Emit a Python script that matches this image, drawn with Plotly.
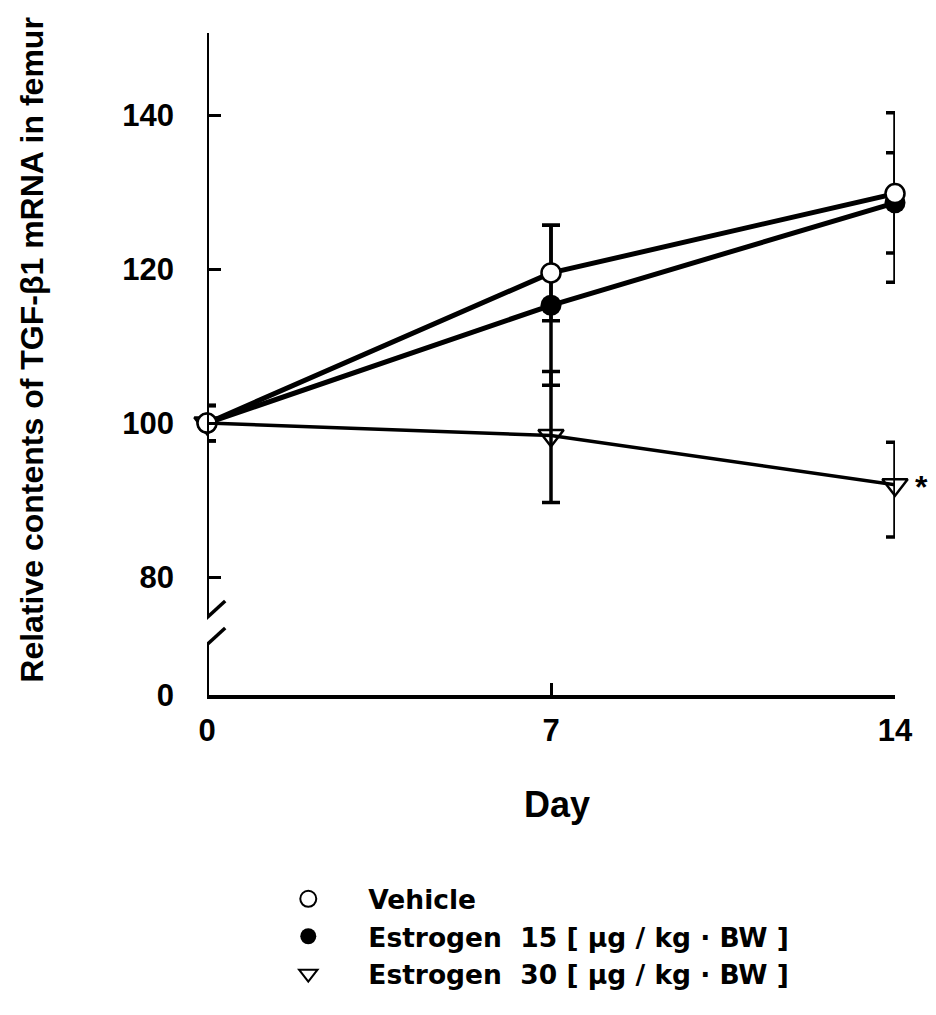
import plotly.graph_objects as go

# ---- data ----
days = [0, 7, 14]

vehicle = [100, 119.5, 129.8]
vehicle_err_plus = [2.3, 6.2, 10.5]
vehicle_err_minus = [2.3, 6.2, 11.5]

estrogen15 = [100, 115.3, 128.6]
estrogen15_err_plus = [2.3, 10.4, 6.5]
estrogen15_err_minus = [2.3, 10.4, 6.5]

estrogen30 = [100, 98.4, 92.0]
estrogen30_err_plus = [2.3, 8.3, 5.5]
estrogen30_err_minus = [2.3, 8.7, 6.8]

y_tick_values = [80, 100, 120, 140]
y_tick_labels = ["80", "100", "120", "140"]
x_tick_values = [0, 7, 14]
x_tick_labels = ["0", "7", "14"]

series_names = ["Vehicle",
                "Estrogen\u00a0\u00a015\u00a0[\u00a0\u00b5g\u00a0/\u00a0kg\u00a0\u00b7\u00a0BW\u00a0]",
                "Estrogen\u00a0\u00a030\u00a0[\u00a0\u00b5g\u00a0/\u00a0kg\u00a0\u00b7\u00a0BW\u00a0]"]

# broken axis: the "0" label sits just below the break
Y_ZERO_POS = 64.7
Y_TOP = 150.65

FONT = "Liberation Sans"

fig = go.Figure()

def err(plus, minus):
    return dict(type="data", symmetric=False, array=plus, arrayminus=minus,
                color="black", thickness=3.5, width=9)

fig.add_trace(go.Scatter(
    x=days, y=estrogen30, mode="lines+markers", showlegend=False,
    line=dict(color="black", width=3.5),
    marker=dict(symbol="triangle-down-open", size=22, color="black", line=dict(width=2.5)),
    error_y=err(estrogen30_err_plus, estrogen30_err_minus), cliponaxis=False))

fig.add_trace(go.Scatter(
    x=days, y=estrogen15, mode="lines+markers", showlegend=False,
    line=dict(color="black", width=5),
    marker=dict(symbol="circle", size=21, color="black"),
    error_y=err(estrogen15_err_plus, estrogen15_err_minus), cliponaxis=False))

fig.add_trace(go.Scatter(
    x=days, y=vehicle, mode="lines+markers", showlegend=False,
    line=dict(color="black", width=5),
    marker=dict(symbol="circle", size=19, color="white", line=dict(color="black", width=2.5)),
    error_y=err(vehicle_err_plus, vehicle_err_minus), cliponaxis=False))

# legend-only entries
legend_symbols = [
    dict(symbol="circle-open", color="black", size=16, line=dict(width=2)),
    dict(symbol="circle", color="black", size=16),
    dict(symbol="triangle-down-open", color="black", size=16, line=dict(width=2)),
]
for name, mk in zip(series_names, legend_symbols):
    fig.add_trace(go.Scatter(x=[None], y=[None], mode="markers", name=name,
                             marker=mk, showlegend=True))

# y-axis line with break
shape_line = dict(color="black", width=4)
fig.add_shape(type="line", xref="x", yref="y", x0=0, x1=0, y0=Y_TOP, y1=75.1, line=shape_line)
fig.add_shape(type="line", xref="x", yref="y", x0=0, x1=0, y0=71.4, y1=Y_ZERO_POS, line=shape_line)
fig.add_shape(type="line", xref="x", yref="y", x0=-0.35, x1=0.37, y0=72.7, y1=76.9,
              line=dict(color="black", width=3.5))
fig.add_shape(type="line", xref="x", yref="y", x0=-0.35, x1=0.37, y0=69.2, y1=73.4,
              line=dict(color="black", width=3.5))

fig.update_layout(
    width=928, height=1007,
    margin=dict(l=199, r=41, t=25, b=320),
    paper_bgcolor="white", plot_bgcolor="white",
    font=dict(family=FONT, color="black"),
    showlegend=True,
    legend=dict(x=0.06, y=-0.272, xanchor="left", yanchor="top",
                font=dict(family="DejaVu Sans", size=26.5, weight="bold", color="black"),
                itemwidth=110, tracegroupgap=0, bgcolor="rgba(0,0,0,0)"),
    xaxis=dict(range=[0, 14], showgrid=False, zeroline=False,
               showline=True, linecolor="black", linewidth=3.5,
               tickvals=x_tick_values, ticktext=x_tick_labels,
               ticks="inside", ticklen=12, tickwidth=3, tickcolor="black",
               tickfont=dict(family=FONT, size=31, weight="bold"),
               ticklabelstandoff=5),
    yaxis=dict(range=[Y_ZERO_POS, Y_TOP], showgrid=False, zeroline=False,
               showline=False,
               tickvals=[Y_ZERO_POS] + y_tick_values, ticktext=["0"] + y_tick_labels,
               ticks="inside", ticklen=14, tickwidth=3, tickcolor="black",
               tickfont=dict(family=FONT, size=31, weight="bold"),
               ticklabelstandoff=32),
)

fig.add_annotation(text="Relative contents of TGF-\u03b21 mRNA in femur",
                   xref="paper", yref="paper", x=-0.254, y=0.522,
                   textangle=-90, showarrow=False, xanchor="center", yanchor="middle",
                   font=dict(family=FONT, size=32, weight="bold"))
fig.add_annotation(text="Day", xref="paper", yref="paper", x=0.508, y=-0.166,
                   showarrow=False, xanchor="center", yanchor="middle",
                   font=dict(family=FONT, size=36, weight="bold"))
fig.add_annotation(text="*", xref="x", yref="y", x=days[2], y=estrogen30[2],
                   xshift=26, yshift=-2, showarrow=False,
                   font=dict(family=FONT, size=32, weight="bold"))

fig.write_html("out.html")
